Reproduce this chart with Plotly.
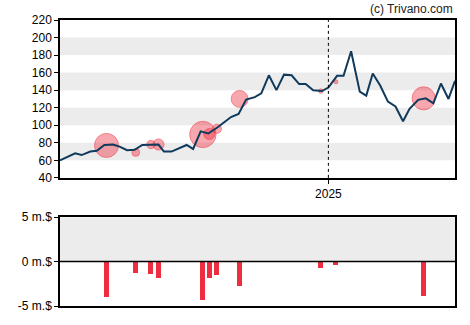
import plotly.graph_objects as go

# Price line (weekly-ish closes)
price_dates = ["2024-04-28","2024-05-12","2024-05-18","2024-05-26","2024-06-01","2024-06-08",
               "2024-06-16","2024-06-22","2024-06-29","2024-07-06","2024-07-13","2024-07-20",
               "2024-07-28","2024-08-02","2024-08-09","2024-08-23","2024-08-29","2024-09-05",
               "2024-09-12","2024-09-21","2024-10-03","2024-10-10","2024-10-17","2024-10-25",
               "2024-10-31","2024-11-07","2024-11-14","2024-11-21","2024-11-28","2024-12-05",
               "2024-12-11","2024-12-18","2024-12-26","2025-01-01","2025-01-09","2025-01-15",
               "2025-01-22","2025-01-30","2025-02-05","2025-02-11","2025-02-18","2025-02-25",
               "2025-03-04","2025-03-11","2025-03-17","2025-03-25","2025-04-01","2025-04-08",
               "2025-04-15","2025-04-22","2025-04-28"]
price_values = [60, 68, 66, 70, 71, 77.5,
                78, 75.6, 71.5, 72, 77.5, 78,
                78, 70, 70, 77.5, 73, 93,
                90.6, 98, 109.4, 113, 129.3, 132,
                136.3, 157, 140, 157.7, 157, 147,
                147, 140, 139, 143, 156.3, 156.3,
                184.4, 138.3, 133.8, 159, 145, 127,
                121.4, 104.5, 118.75, 129, 130.7, 125,
                147.6, 130, 150.6]

# Insider transactions
trade_dates = ["2024-06-10","2024-07-07","2024-07-21","2024-07-28","2024-09-07","2024-09-13",
               "2024-09-20","2024-10-11","2024-12-25","2025-01-08","2025-03-30"]
trade_prices = [77, 69, 78, 78, 89.5, 90, 96, 130, 139, 149.5, 130.7]
trade_values = [-4.0, -1.3, -1.4, -1.85, -4.4, -1.85, -1.52, -2.81, -0.74, -0.41, -3.85]

y_ticks = [40, 60, 80, 100, 120, 140, 160, 180, 200, 220]
vol_ticks = [-5, 0, 5]
vol_tick_text = ["-5 m.$", "0 m.$", "5 m.$"]

RED = "rgb(238,46,64)"
LINE = "#0f3a5c"
GREY = "#ececec"
DAY_MS = 86400000

fig = go.Figure()

fig.add_trace(go.Scatter(
    x=trade_dates, y=trade_prices, mode="markers",
    marker=dict(size=[max(4, 6 * abs(v)) for v in trade_values], sizemode="diameter",
                color="rgba(238,46,64,0.6)", line=dict(color="rgba(238,46,64,0.8)", width=1)),
    xaxis="x", yaxis="y", hoverinfo="skip", showlegend=False))

fig.add_trace(go.Scatter(
    x=price_dates, y=price_values, mode="lines",
    line=dict(color=LINE, width=2), xaxis="x", yaxis="y", showlegend=False))

fig.add_trace(go.Bar(
    x=trade_dates, y=trade_values, width=4.6 * DAY_MS,
    marker=dict(color=RED, line=dict(width=0)),
    xaxis="x2", yaxis="y2", showlegend=False))

x_range = ["2024-04-28", "2025-04-28"]

shapes = []
for lo in [60, 100, 140, 180]:
    shapes.append(dict(type="rect", xref="x domain", yref="y", x0=0, x1=1, y0=lo, y1=lo + 20,
                       fillcolor=GREY, line=dict(width=0), layer="below"))
shapes.append(dict(type="rect", xref="x2 domain", yref="y2", x0=0, x1=1, y0=0, y1=5,
                   fillcolor=GREY, line=dict(width=0), layer="below"))
shapes.append(dict(type="line", xref="x2 domain", yref="y2", x0=0, x1=1, y0=0, y1=0,
                   line=dict(color="black", width=1.5)))
shapes.append(dict(type="line", xref="x", yref="y domain", x0="2025-01-01", x1="2025-01-01",
                   y0=0, y1=1, line=dict(color="black", width=1, dash="dot")))

font = dict(family="Liberation Sans, Arial, sans-serif", size=12, color="black")

fig.update_layout(
    width=470, height=325,
    margin=dict(l=60, r=15, t=20, b=15),
    paper_bgcolor="white", plot_bgcolor="white",
    font=font, bargap=0, showlegend=False,
    shapes=shapes,
    xaxis=dict(domain=[0, 1], anchor="y", type="date", range=x_range,
               tickvals=["2025-01-01"], ticktext=["2025"], ticks="outside", ticklen=4,
               tickcolor="black", showgrid=False, zeroline=False,
               showline=True, linecolor="black", linewidth=1.5, mirror=True),
    yaxis=dict(domain=[0.448, 1], anchor="x", range=[40, 220], tickvals=y_ticks,
               ticks="outside", ticklen=4, tickcolor="black", showgrid=False, zeroline=False,
               showline=True, linecolor="black", linewidth=1.5, mirror=True),
    xaxis2=dict(domain=[0, 1], anchor="y2", type="date", range=x_range, matches="x",
                showticklabels=False, ticks="", showgrid=False, zeroline=False,
                showline=True, linecolor="black", linewidth=1.5, mirror=True),
    yaxis2=dict(domain=[0, 0.3103], anchor="x2", range=[-5, 5], tickvals=vol_ticks,
                ticktext=vol_tick_text, ticks="outside", ticklen=4, tickcolor="black",
                showgrid=False, zeroline=False,
                showline=True, linecolor="black", linewidth=1.5, mirror=True),
    annotations=[dict(text="(c) Trivano.com", xref="paper", yref="paper", x=1, y=1.038,
                      xanchor="right", yanchor="middle", showarrow=False,
                      font=dict(family="Liberation Sans, Arial, sans-serif", size=12, color="#222"))],
)

fig.write_html("out.html")
